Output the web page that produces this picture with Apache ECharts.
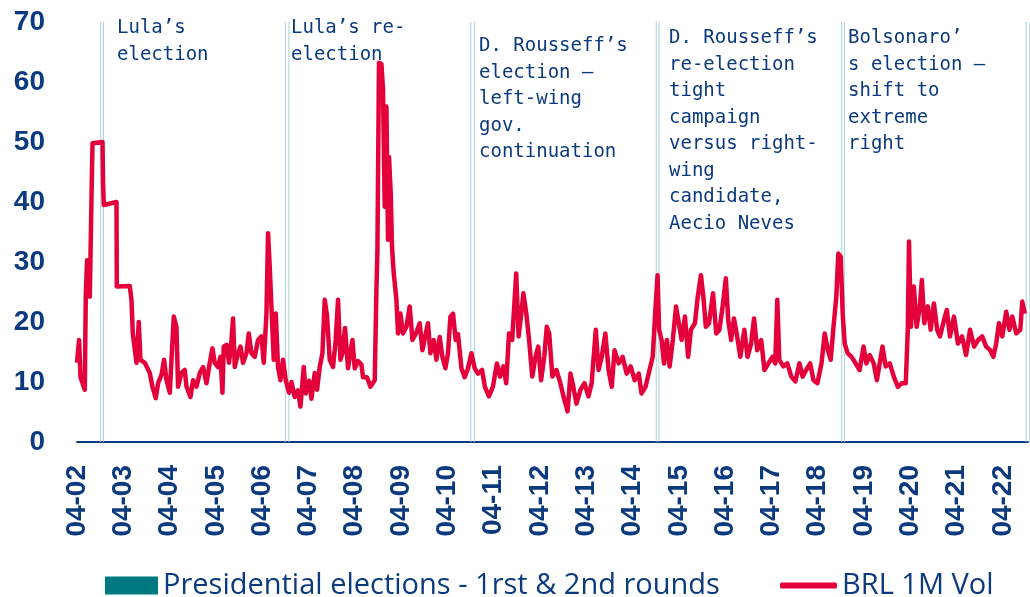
<!DOCTYPE html>
<html>
<head>
<meta charset="utf-8">
<script src="https://cdn.jsdelivr.net/npm/echarts@6/dist/echarts.min.js"></script>
<style>html,body{margin:0;padding:0;background:#fff;}#c{width:1030px;height:597px;}</style>
</head>
<body>
<div id="c"></div>
<script>
// x tick labels (April of each year)
const tickLabels = ['04-02','04-03','04-04','04-05','04-06','04-07','04-08','04-09','04-10','04-11','04-12','04-13','04-14','04-15','04-16','04-17','04-18','04-19','04-20','04-21','04-22'];

// months since April 2002
const months = [
0.0,0.54,0.91,2.02,2.28,2.62,3.32,3.76,4.02,6.61,6.74,6.94,10.24,10.31,13.68,14.12,14.46,15.42,16.01,16.45,
17.57,18.86,19.56,20.42,21.02,21.9,22.57,23.19,24.05,25.08,25.78,26.2,27.08,27.93,28.37,29.41,30.09,30.97,31.83,32.68,
33.56,34.41,35.11,35.71,36.56,37.19,37.7,38.04,38.74,39.41,40.04,40.45,40.89,41.75,42.37,43.04,43.92,44.52,45.22,46.07,
46.93,47.81,48.41,49.11,49.52,49.96,50.4,51.0,51.52,52.11,52.73,53.4,54.11,54.96,55.59,56.44,57.29,57.92,58.77,59.29,
60.15,60.77,61.62,62.22,62.92,63.62,64.21,64.81,65.51,66.36,67.06,67.66,68.28,68.8,69.47,70.25,71.39,71.99,72.84,73.72,
74.14,75.17,76.05,77.17,77.61,77.87,78.28,78.91,79.32,79.76,80.2,80.61,80.87,81.32,81.65,82.09,82.79,83.21,83.83,84.5,
85.38,86.24,86.94,87.79,88.83,89.53,90.38,90.98,91.6,92.46,93.16,94.01,94.71,95.49,96.16,96.79,97.46,98.16,98.76,99.64,
100.49,101.35,102.23,103.08,103.94,105.0,105.73,106.77,107.8,108.84,109.67,110.52,111.25,111.97,112.8,113.84,114.46,115.08,115.7,116.46,
117.18,118.01,118.84,119.56,120.29,121.12,121.77,122.39,123.22,124.26,125.29,126.33,127.16,127.91,128.64,129.46,130.5,131.54,132.57,133.4,
134.47,135.19,136.02,136.95,137.78,138.61,139.33,140.39,141.43,142.47,143.5,144.54,145.6,146.33,147.37,148.4,149.23,149.86,150.48,150.89,
151.52,152.16,152.89,153.61,154.44,155.27,155.99,156.72,157.58,158.41,159.13,160.17,160.9,161.73,162.35,163.0,163.82,164.86,165.69,166.52,
167.45,168.18,168.8,169.55,170.28,171.11,171.94,172.97,173.8,174.73,175.49,176.31,177.35,178.18,179.22,180.25,180.98,181.52,182.04,183.08,
184.11,185.15,186.19,187.25,188.08,189.01,190.05,190.88,191.91,192.98,193.8,194.63,195.36,196.09,196.81,197.33,197.95,198.47,198.99,199.74,
200.78,201.81,202.85,203.88,204.61,205.47,206.5,207.33,208.06,208.78,209.61,210.67,211.71,212.75,213.78,214.82,215.34,215.65,216.16,216.91,
217.64,218.47,218.99,219.61,220.55,221.27,222.1,222.96,223.68,224.72,225.45,226.28,227.31,228.35,229.41,230.45,231.48,232.52,233.56,234.62,
235.66,236.69,237.52,238.25,238.97,239.83,240.86,241.69,242.42,243.46,244.5,245.01,245.66
];

// BRL 1M implied volatility
const vol = [
13.2,17,10.8,8.7,24.8,30.3,24.2,40.8,49.8,50,43.7,39.5,40,25.9,26,23.7,18.1,13.2,20,13.7,
13.2,11.5,9.2,7.3,9.8,11.2,13.7,10.3,8.2,20.9,19.2,9.2,11.5,12,9.3,7.5,10.3,9.2,11.5,12.5,
9.8,13.2,15.6,13.2,12.5,14.2,8.2,15.9,16.2,13.2,17,20.6,12.5,14.8,15.9,13.2,14.8,18.1,14.8,14.2,
17,17.6,13.2,21.4,34.8,29.2,22.5,13.7,21.4,12.5,10.3,13.7,10.3,8.2,10,7.5,8.6,5.9,12.5,8.1,
10.2,7.2,11.5,8.7,12.5,14.8,23.7,21,13.7,12.5,17,23.7,13.7,14.8,19,12.3,17,12.3,13.5,12.9,
10.8,10.8,9.2,10.3,25.3,32,63.2,63,58.7,39.2,55.9,33.7,47.5,41.5,32.5,28.2,23.7,18.1,21.4,18.1,
19.2,22.6,17,18,19.8,15.3,18,19.8,14.8,17,13.7,17.5,14.2,12.3,14.8,20.9,21.4,17,18,12.3,
10.8,12.3,14.8,12.3,11.4,12,9.2,7.6,9.2,13.1,10.9,12.6,9.8,18.1,17,28.1,17.6,20.9,24.8,21.4,
17,10.9,14.2,15.9,10.3,14.2,19.2,18.1,10.9,12,9.8,7,5.1,11.4,9.2,6.4,8.7,9.8,7.6,9.8,
18.7,12,14.2,18.1,12,9.2,15.3,13.1,14.2,11.4,12.6,10.3,11.4,8.1,9.2,12,14.2,21.4,27.8,18.7,
17,13.1,17,12.6,17,22.6,19.8,17,20.9,14.2,18.7,19.8,24.2,27.8,24.2,19.2,19.8,24.8,18.1,18.7,
23.1,27.3,20.3,17,20.6,17.6,14.2,18.7,14.2,16.4,20.6,15.3,17,12,13.1,14.2,13.1,23.7,13.7,12.6,
13.1,10.9,10.1,13.1,10.9,12,13.1,10.3,9.8,13.1,18.1,15.3,13.7,19.2,24.2,31.4,30.9,21.4,16.4,14.8,
14.2,13.1,12,15.9,13.1,14.5,13.1,10.3,13.1,15.9,12.6,13.1,10.9,9.2,9.8,9.8,18.7,33.4,19.2,25.9,
19.2,22.6,27,19.8,22.6,18.7,23.1,18.7,17.6,20.3,22,17.6,20.9,16.4,17.6,14.5,18.7,15.9,17,17.6,
15.9,15.3,14.2,16.4,19.8,17.6,21.7,18.7,20.9,18.1,18.7,23.4,21.4
];

// Presidential elections, 1st and 2nd rounds
const electionDates = ['2002-10-06','2002-10-27','2006-10-01','2006-10-29','2010-10-03','2010-10-31','2014-10-05','2014-10-26','2018-10-07','2018-10-28','2022-10-02','2022-10-30'];
const electionLevel = 70;

const annotations = [
  { left: 117, top: 15, lines: ['Lula’s', 'election'] },
  { left: 291, top: 15, lines: ['Lula’s re-', 'election'] },
  { left: 479, top: 33, lines: ['D. Rousseff’s', 'election –', 'left-wing', 'gov.', 'continuation'] },
  { left: 669, top: 25, lines: ['D. Rousseff’s', 're-election', 'tight', 'campaign', 'versus right-', 'wing', 'candidate,', 'Aecio Neves'] },
  { left: 848, top: 25, lines: ['Bolsonaro’', 's election –', 'shift to', 'extreme', 'right'] }
];

function monthsFromStart(s) {
  const p = s.split('-').map(Number);
  return (p[0] - 2002) * 12 + (p[1] - 4) + (p[2] - 1) / 30;
}

const BLUE = '#0b3a7e';
const chart = echarts.init(document.getElementById('c'));
chart.setOption({
  animation: false,
  backgroundColor: '#ffffff',
  grid: { left: 77, right: 2, top: 22, bottom: 155, containLabel: false },
  xAxis: {
    type: 'value', min: 0, max: 246.5, interval: 12,
    axisLine: { show: true, lineStyle: { color: BLUE, width: 2 } },
    axisTick: { show: false },
    splitLine: { show: false },
    axisLabel: {
      rotate: 90, margin: 23, color: BLUE, fontSize: 28, fontWeight: 'bold',
      fontFamily: 'Liberation Sans',
      formatter: function (v) { const i = Math.round(v / 12); return tickLabels[i] || ''; }
    }
  },
  yAxis: {
    type: 'value', min: 0, max: 70, interval: 10,
    axisLine: { show: false }, axisTick: { show: false }, splitLine: { show: false },
    axisLabel: { margin: 32, color: BLUE, fontSize: 28, fontWeight: 'bold', fontFamily: 'Liberation Sans' }
  },
  legend: [
    {
      left: 100, top: 566, itemWidth: 53, itemHeight: 18, icon: 'rect', selectedMode: false,
      data: [{ name: 'Presidential elections - 1rst & 2nd rounds', itemStyle: { color: '#007a80' } }],
      textStyle: { fontSize: 29, color: BLUE, fontFamily: 'Open Sans' }
    },
    {
      left: 775, top: 566, itemWidth: 57, itemHeight: 6, icon: 'roundRect', selectedMode: false,
      data: ['BRL 1M Vol'],
      textStyle: { fontSize: 29, color: BLUE, fontFamily: 'Open Sans' }
    }
  ],
  series: [
    {
      name: 'Presidential elections - 1rst & 2nd rounds', type: 'bar', barWidth: 1, silent: true, z: 1,
      itemStyle: { color: '#a9d0d5' },
      data: electionDates.map(function (d) { return [monthsFromStart(d), electionLevel]; })
    },
    {
      name: 'BRL 1M Vol', type: 'line', showSymbol: false, z: 3,
      lineStyle: { color: '#e4003a', width: 4.5, join: 'round' },
      itemStyle: { color: '#e4003a' },
      data: months.map(function (m, i) { return [m, vol[i]]; })
    }
  ],
  graphic: annotations.map(function (a) {
    return {
      type: 'text', left: a.left, top: a.top, silent: true, z: 10,
      style: { text: a.lines.join('\n'), fill: BLUE, fontSize: 19, lineHeight: 26.5, fontFamily: 'DejaVu Sans Mono' }
    };
  })
});
</script>
</body>
</html>
